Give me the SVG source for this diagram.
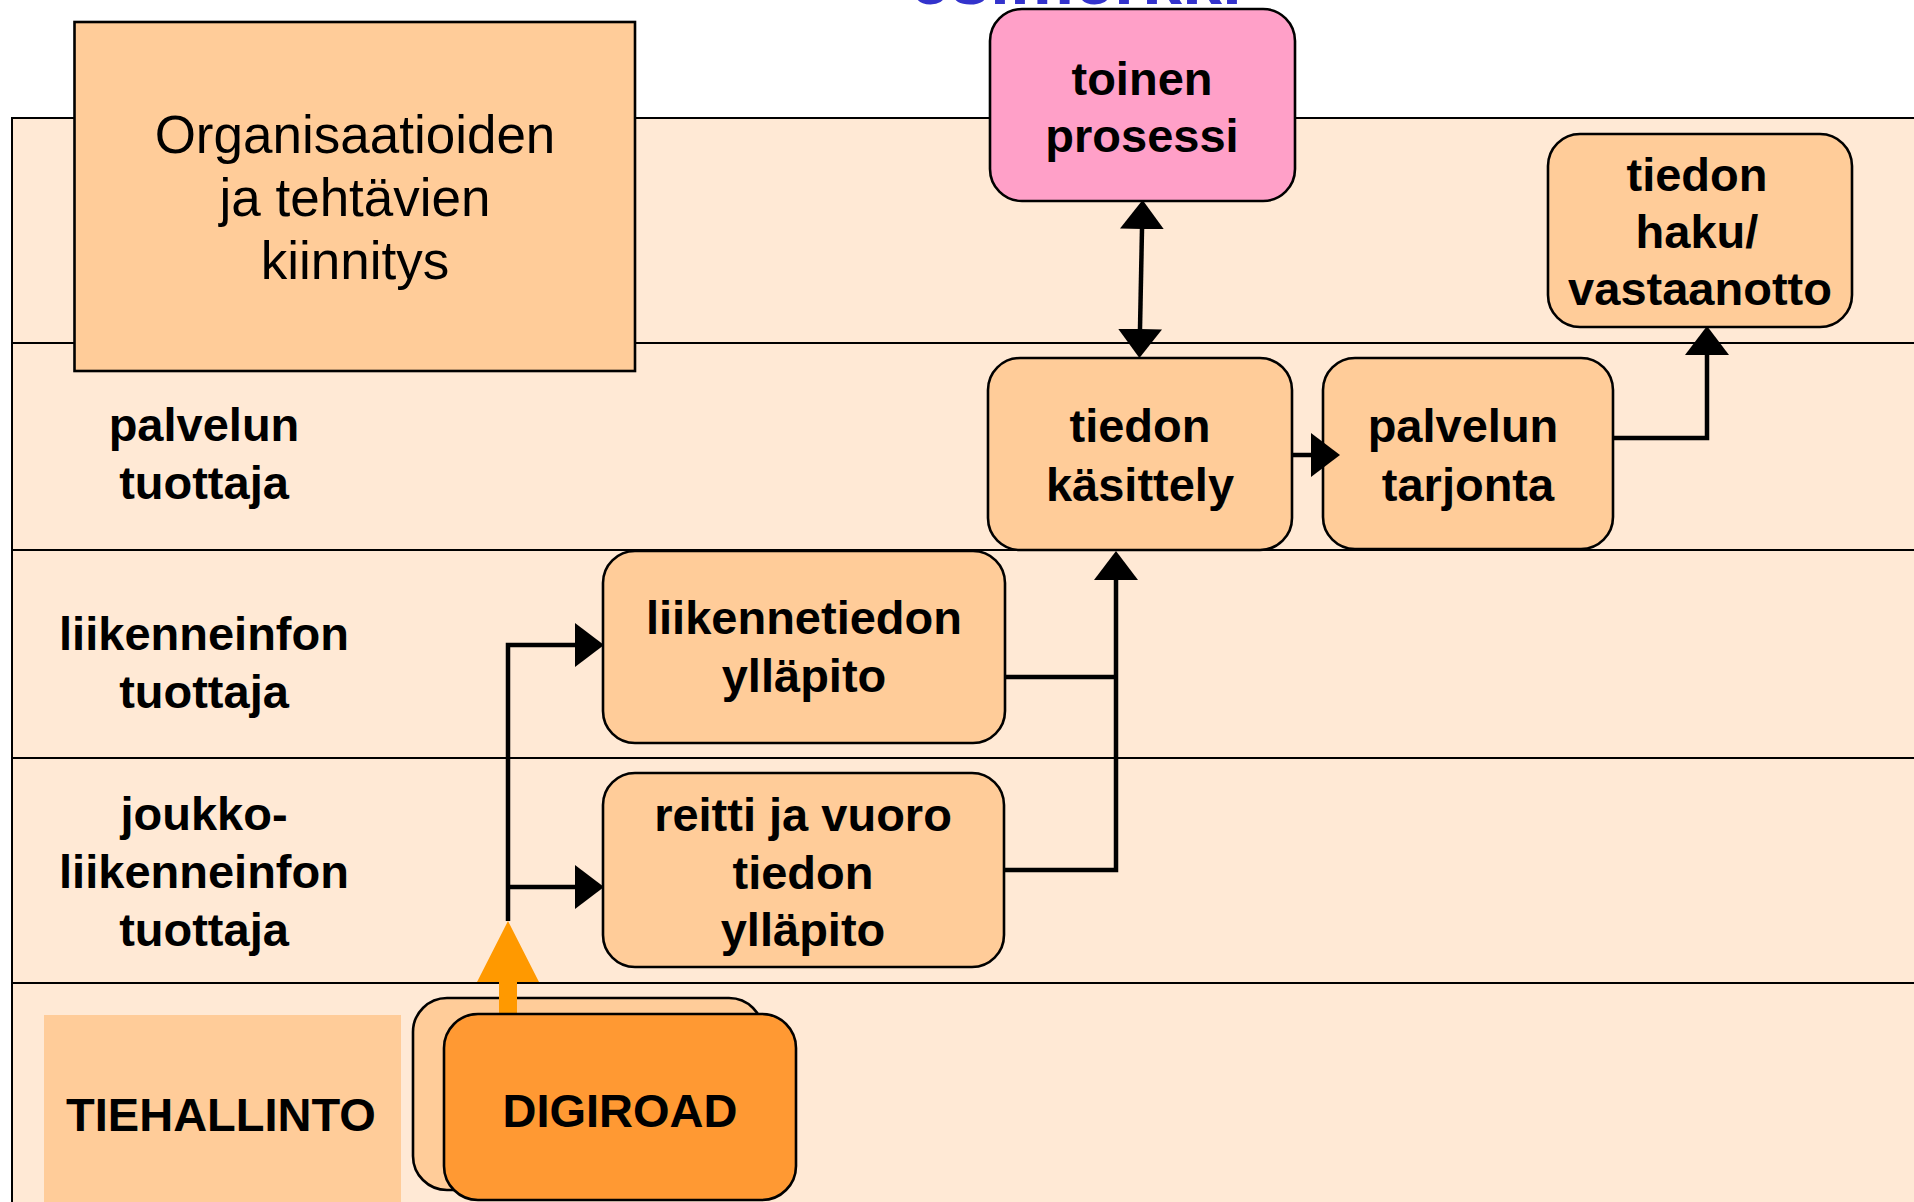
<svg xmlns="http://www.w3.org/2000/svg" width="1914" height="1202" viewBox="0 0 1914 1202">
<style>
.lane{fill:#FFE9D5;stroke:#000;stroke-width:2}
.node{fill:#FFCC99;stroke:#000;stroke-width:2.6}
.b{font-family:"Liberation Sans",Arial,sans-serif;font-weight:bold;font-size:47px;fill:#000;text-anchor:middle}
.r{font-family:"Liberation Sans",Arial,sans-serif;font-size:53px;fill:#000;text-anchor:middle}
.conn{fill:none;stroke:#000;stroke-width:4.5;stroke-linejoin:miter}
</style>
<defs>
<marker id="ah" viewBox="0 0 29 44" refX="0" refY="22" markerWidth="29" markerHeight="44" markerUnits="userSpaceOnUse" orient="auto-start-reverse">
<path d="M0,0 L29,22 L0,44 Z" fill="#000"/>
</marker>
</defs>
<rect width="1914" height="1202" fill="#FFFFFF"/>
<text x="1076" y="4" font-family="Liberation Sans,Arial,sans-serif" font-weight="bold" font-size="72" fill="#3333CC" text-anchor="middle">esimerkki</text>
<g id="lanes">
<rect class="lane" x="12" y="118" width="1920" height="225"/>
<rect class="lane" x="12" y="343" width="1920" height="207"/>
<rect class="lane" x="12" y="550" width="1920" height="208"/>
<rect class="lane" x="12" y="758" width="1920" height="225"/>
<rect class="lane" x="12" y="983" width="1920" height="240"/>
<text class="b" x="204" y="441">palvelun</text>
<text class="b" x="204" y="499">tuottaja</text>
<text class="b" x="204" y="650">liikenneinfon</text>
<text class="b" x="204" y="708">tuottaja</text>
<text class="b" x="204" y="830">joukko-</text>
<text class="b" x="204" y="888">liikenneinfon</text>
<text class="b" x="204" y="946">tuottaja</text>
</g>
<g id="org">
<rect x="74.5" y="22" width="560.5" height="349" fill="#FFCC99" stroke="#000" stroke-width="2.6"/>
<text class="r" x="355" y="153">Organisaatioiden</text>
<text class="r" x="355" y="216">ja tehtävien</text>
<text class="r" x="355" y="279">kiinnitys</text>
</g>
<g id="toinen">
<rect x="990" y="9" width="305" height="192" rx="32" fill="#FFA0C8" stroke="#000" stroke-width="2.6"/>
<text class="b" x="1142" y="95">toinen</text>
<text class="b" x="1142" y="152">prosessi</text>
</g>
<g id="haku">
<rect class="node" x="1548" y="134" width="304" height="193" rx="32"/>
<text class="b" x="1697" y="191">tiedon</text>
<text class="b" x="1697" y="248">haku/</text>
<text class="b" x="1700" y="305">vastaanotto</text>
</g>
<g id="kasittely">
<rect class="node" x="988" y="358" width="304" height="192" rx="32"/>
<text class="b" x="1140" y="442">tiedon</text>
<text class="b" x="1140" y="501">käsittely</text>
</g>
<g id="tarjonta">
<rect class="node" x="1323" y="358" width="290" height="191" rx="32"/>
<text class="b" x="1463" y="442">palvelun</text>
<text class="b" x="1468" y="501">tarjonta</text>
</g>
<g id="liikennetiedon">
<rect class="node" x="603" y="551" width="402" height="192" rx="32"/>
<text class="b" x="804" y="634">liikennetiedon</text>
<text class="b" x="804" y="692">ylläpito</text>
</g>
<g id="reitti">
<rect class="node" x="603" y="773" width="401" height="194" rx="32"/>
<text class="b" x="803" y="831">reitti ja vuoro</text>
<text class="b" x="803" y="889">tiedon</text>
<text class="b" x="803" y="946">ylläpito</text>
</g>
<g id="tiehallinto">
<rect x="44" y="1015" width="357" height="200" fill="#FFCC99"/>
<text class="b" x="221" y="1131">TIEHALLINTO</text>
</g>
<g id="digiroad-back">
<rect class="node" x="413" y="998" width="350" height="192" rx="34"/>
</g>
<g id="connectors">
<path class="conn" d="M1142,229 L1140,329" marker-start="url(#ah)" marker-end="url(#ah)"/>
<path class="conn" d="M1292,455 L1311,455" marker-end="url(#ah)"/>
<path class="conn" d="M1613,438 L1707,438 L1707,355" marker-end="url(#ah)"/>
<path class="conn" d="M1005,677 L1116,677"/>
<path class="conn" d="M1004,870 L1116,870 L1116,580" marker-end="url(#ah)"/>
<path class="conn" d="M508,921 L508,645 L575,645" marker-end="url(#ah)"/>
<path class="conn" d="M508,887 L575,887" marker-end="url(#ah)"/>
<path d="M499,1016 L499,982 L477,982 L508,921 L539,982 L517,982 L517,1016 Z" fill="#FF9900"/>
</g>
<g id="digiroad">
<rect x="444" y="1014" width="352" height="186" rx="34" fill="#FF9933" stroke="#000" stroke-width="2.6"/>
<text class="b" x="620" y="1127">DIGIROAD</text>
</g>
</svg>
